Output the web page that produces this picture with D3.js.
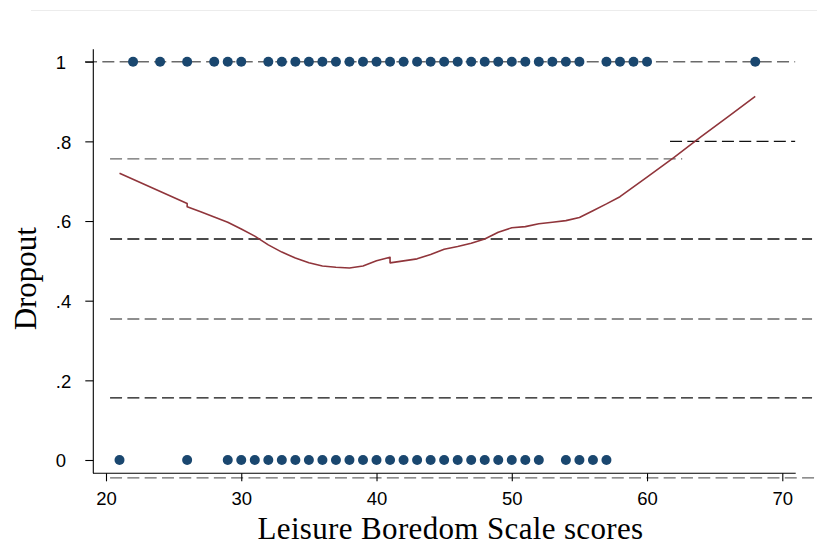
<!DOCTYPE html>
<html>
<head>
<meta charset="utf-8">
<script src="https://cdn.jsdelivr.net/npm/d3@7"></script>
<style>
  html, body { margin: 0; padding: 0; background: #fff; }
  svg { display: block; }
</style>
</head>
<body>
<svg id="chart" width="817" height="546"></svg>
<script>
// ---- data ----
const dropout1Scores = [22,24,26,28,29,30,32,33,34,35,36,37,38,39,40,41,42,43,44,45,46,47,48,49,50,51,52,53,54,55,57,58,59,60,68];
const dropout0Scores = [21,26,29,30,31,32,33,34,35,36,37,38,39,40,41,42,43,44,45,46,47,48,49,50,51,52,54,55,56,57];
const lowessX = [21,26,26,27,28,29,30,31,32,33,34,35,36,37,38,39,40,41,41,42,43,44,45,46,47,48,49,50,51,52,53,54,55,56,57,58,60,62,64,66,68];
const lowessY = [0.72,0.644,0.636,0.623,0.610,0.597,0.580,0.562,0.540,0.522,0.507,0.495,0.487,0.484,0.482,0.487,0.500,0.509,0.495,0.500,0.505,0.516,0.529,0.536,0.544,0.555,0.572,0.583,0.586,0.593,0.597,0.601,0.609,0.626,0.643,0.661,0.710,0.760,0.812,0.862,0.913];
const xTicks = [20,30,40,50,60,70];
const yTicks = [0,0.2,0.4,0.6,0.8,1];
const yTickLabels = ["0",".2",".4",".6",".8","1"];
// stray dashed reference rules visible in the picture: [yValue, xStart, xEnd, tone]
const refY     = [1.0, 0.756, 0.80, 0.555, 0.354, 0.156, -0.045];
const refStart = [18.45, 20.3, 61.7, 20.3, 20.3, 20.3, 20.3];
const refEnd   = [70.95, 62.6, 70.95, 72.2, 72.2, 72.2, 72.5];
const refTone  = ["grey","grey","black","black","grey","black","grey"];
const xTitle = "Leisure Boredom Scale scores";
const yTitle = "Dropout";

// ---- drawing ----
const svg = d3.select("#chart");
const x = d3.scaleLinear().domain([20, 70]).range([106, 782.3]);
const y = d3.scaleLinear().domain([0, 1]).range([460, 61.7]);
const navy = "#1a476f";
const maroon = "#90353b";

// faint top rule
svg.append("line").attr("x1", 31).attr("x2", 817).attr("y1", 10.5).attr("y2", 10.5)
  .attr("stroke", "#ececec").attr("stroke-width", 1);

// dashed reference rules
const refs = refY.map((v, i) => ({ v, s: refStart[i], e: refEnd[i], t: refTone[i] }));
svg.append("g").selectAll("line").data(refs).join("line")
  .attr("x1", d => x(d.s)).attr("x2", d => x(d.e))
  .attr("y1", d => y(d.v)).attr("y2", d => y(d.v))
  .attr("stroke", d => d.t === "grey" ? "#6a6a6a" : "#111")
  .attr("stroke-width", 1.4)
  .attr("stroke-dasharray", "12,5.3");

// axes
const xAxis = d3.axisBottom(x).tickValues(xTicks).tickSize(8).tickPadding(6).tickFormat(d3.format("d"));
const gx = svg.append("g").attr("transform", "translate(0,473.3)").call(xAxis);
gx.select(".domain").attr("d", "M93,0H795.7").attr("stroke", "#000").attr("stroke-width", 1.1);
gx.selectAll(".tick line").attr("stroke", "#000").attr("stroke-width", 1.1);
gx.selectAll(".tick text").attr("font-family", "'Liberation Sans', Arial, sans-serif")
  .attr("font-size", 18.5).attr("fill", "#000").attr("dy", "0.95em");

const yAxis = d3.axisLeft(y).tickValues(yTicks).tickSize(8).tickPadding(0)
  .tickFormat((d, i) => yTickLabels[i]);
const gy = svg.append("g").attr("transform", "translate(93.3,0)").call(yAxis);
gy.select(".domain").attr("d", "M0,49.3V473.3").attr("stroke", "#000").attr("stroke-width", 1.1);
gy.selectAll(".tick line").attr("stroke", "#000").attr("stroke-width", 1.1);
gy.selectAll(".tick text").attr("font-family", "'Liberation Sans', Arial, sans-serif")
  .attr("font-size", 18.5).attr("fill", "#000")
  .attr("text-anchor", "start").attr("x", -37.5).attr("dy", "0.36em");

// points
svg.append("g").selectAll("circle").data(dropout1Scores).join("circle")
  .attr("cx", d => x(d)).attr("cy", y(1)).attr("r", 5).attr("fill", navy);
svg.append("g").selectAll("circle").data(dropout0Scores).join("circle")
  .attr("cx", d => x(d)).attr("cy", y(0)).attr("r", 5).attr("fill", navy);

// lowess line
const pts = lowessX.map((v, i) => [v, lowessY[i]]);
svg.append("path").datum(pts)
  .attr("d", d3.line().x(d => x(d[0])).y(d => y(d[1])))
  .attr("fill", "none").attr("stroke", maroon).attr("stroke-width", 1.6)
  .attr("stroke-linejoin", "round");

// titles
svg.append("text").attr("x", 450.5).attr("y", 539).attr("text-anchor", "middle")
  .attr("font-family", "'Liberation Serif', 'Times New Roman', serif").attr("font-size", 31)
  .attr("letter-spacing", 0.35)
  .attr("fill", "#000").text(xTitle);
svg.append("text").attr("transform", "translate(36,278.7) rotate(-90)").attr("text-anchor", "middle")
  .attr("font-family", "'Liberation Serif', 'Times New Roman', serif").attr("font-size", 31)
  .attr("fill", "#000").text(yTitle);
</script>
</body>
</html>
